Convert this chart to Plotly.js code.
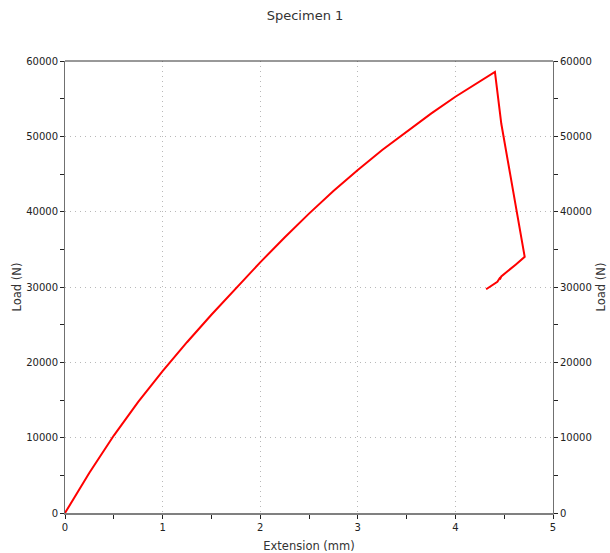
<!DOCTYPE html>
<html>
<head>
<meta charset="utf-8">
<script src="https://cdn.plot.ly/plotly-3.0.1.min.js"></script>
<style>html,body{margin:0;padding:0;background:#fff;}#chart{width:610px;height:553px;}</style>
</head>
<body>
<div id="chart"></div>
<script>
// Extension (mm)
var extension = [0, 0.25, 0.5, 0.75, 1.0, 1.25, 1.5, 1.75, 2.0, 2.25, 2.5, 2.75, 3.0, 3.25, 3.5, 3.75, 4.0, 4.25, 4.405, 4.47, 4.59, 4.71, 4.62, 4.52, 4.47, 4.455, 4.46, 4.43, 4.315];
// Load (N)
var load = [0, 5340, 10280, 14750, 18840, 22670, 26320, 29840, 33270, 36580, 39740, 42730, 45540, 48180, 50650, 53010, 55260, 57350, 58560, 51700, 42800, 34000, 33000, 31900, 31400, 31000, 31300, 30700, 29700];

var xTicks = [0, 1, 2, 3, 4, 5];
var yTicks = [0, 10000, 20000, 30000, 40000, 50000, 60000];

var font = "DejaVu Sans, Verdana, sans-serif";

var traces = [
  {x: extension, y: load, type: 'scatter', mode: 'lines',
   line: {color: '#ff0000', width: 2}, hoverinfo: 'skip', showlegend: false},
  {x: extension, y: load, type: 'scatter', mode: 'lines', yaxis: 'y2',
   line: {color: 'rgba(0,0,0,0)', width: 0}, hoverinfo: 'skip', showlegend: false}
];

var yCommon = {
  range: [0, 60000], tickvals: yTicks, ticktext: yTicks.map(String),
  ticks: 'outside', ticklen: 4, tickcolor: '#222', tickwidth: 1,
  minor: {dtick: 5000, ticks: 'outside', ticklen: 4, tickcolor: '#222', showgrid: false},
  showline: true, linecolor: '#707070', linewidth: 1, zeroline: false,
  tickfont: {family: font, size: 10, color: '#222'},
  title: {text: 'Load (N)', font: {family: font, size: 11.5, color: '#333'}}
};

var layout = {
  width: 610, height: 553,
  margin: {l: 65, r: 57, t: 61, b: 40},
  paper_bgcolor: '#fff', plot_bgcolor: '#fff',
  title: {text: 'Specimen 1', font: {family: font, size: 13, color: '#333'}, x: 0.5, xanchor: 'center', y: 0.98, yanchor: 'top'},
  xaxis: {
    range: [0, 5], tickvals: xTicks, ticktext: xTicks.map(String),
    ticks: 'outside', ticklen: 4, tickcolor: '#222', tickwidth: 1,
    minor: {dtick: 0.5, ticks: 'outside', ticklen: 4, tickcolor: '#222', showgrid: false},
    showline: true, linecolor: '#808080', linewidth: 2, zeroline: false,
    showgrid: true, gridcolor: '#b8b8b8', griddash: '1px,4px', gridwidth: 1,
    tickfont: {family: font, size: 10, color: '#222'},
    title: {text: 'Extension (mm)', font: {family: font, size: 11.5, color: '#333'}, standoff: 10}
  },
  yaxis: Object.assign({}, yCommon, {showgrid: true, gridcolor: '#b8b8b8', griddash: '1px,4px', gridwidth: 1}),
  yaxis2: Object.assign({}, yCommon, {overlaying: 'y', side: 'right', showgrid: false}),
  shapes: [
    {type: 'line', xref: 'paper', yref: 'paper', x0: 0, x1: 1, y0: 1, y1: 1, line: {color: '#333', width: 1}}
  ]
};

Plotly.newPlot('chart', traces, layout, {staticPlot: true, displayModeBar: false});
</script>
</body>
</html>
